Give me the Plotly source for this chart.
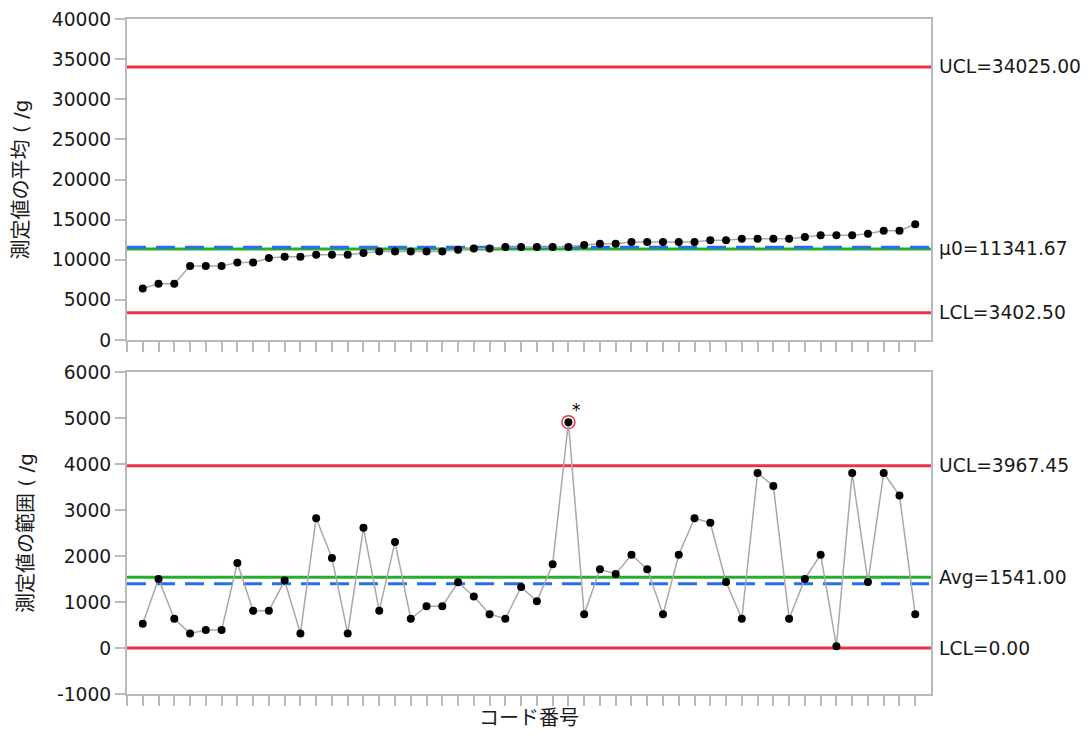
import plotly.graph_objects as go

# Subgroup (code number) index
codes = list(range(1, 51))

# Subgroup means of the measurements (g)
means = [6417, 7000, 7000, 9208, 9208, 9208, 9667, 9667, 10208, 10375,
         10375, 10625, 10625, 10625, 10833, 11042, 11042, 11042, 11042, 11042,
         11250, 11417, 11417, 11583, 11583, 11583, 11583, 11583, 11833, 12000,
         12000, 12208, 12208, 12208, 12208, 12208, 12417, 12417, 12625, 12625,
         12625, 12625, 12833, 13042, 13042, 13042, 13250, 13625, 13625, 14417]

# Subgroup ranges of the measurements (g)
ranges = [529, 1504, 637, 319, 390, 390, 1851, 810, 810, 1468,
          319, 2826, 1959, 319, 2617, 810, 2306, 637, 911, 911,
          1431, 1121, 737, 637, 1330, 1019, 1821, 4915, 737, 1713,
          1612, 2031, 1713, 737, 2031, 2826, 2725, 1439, 637, 3809,
          3527, 637, 1504, 2031, 40, 3809, 1439, 3809, 3317, 737]

# Axis tick values
mean_ticks = [0, 5000, 10000, 15000, 20000, 25000, 30000, 35000, 40000]
range_ticks = [-1000, 0, 1000, 2000, 3000, 4000, 5000, 6000]

# Control limits
mean_ucl, mean_center, mean_lcl = 34025.00, 11341.67, 3402.50
mean_median = 11560
range_ucl, range_center, range_lcl = 3967.45, 1541.00, 0.00
range_median = 1400

RED = "#ec3148"
GREEN = "#22b02a"
BLUE = "#2a6cf0"
FRAME = "#b9b9b9"
TXT = "#1a1a1a"
FONT = "DejaVu Sans, Verdana, sans-serif"
CJK = "DejaVu Sans, Noto Sans CJK JP, sans-serif"
FS = 18.7

fig = go.Figure()

# Out-of-control points on the range chart get a red ring
flag_x = [c for c, r in zip(codes, ranges) if r > range_ucl]
flag_y = [r for r in ranges if r > range_ucl]
fig.add_trace(go.Scatter(x=flag_x, y=flag_y, mode="markers", xaxis="x2", yaxis="y2",
                         marker=dict(size=13, color="white", line=dict(color=RED, width=1.5)),
                         hoverinfo="skip", showlegend=False))

for xa, ya, vals in (("x", "y", means), ("x2", "y2", ranges)):
    fig.add_trace(go.Scatter(x=codes, y=vals, mode="lines+markers", xaxis=xa, yaxis=ya,
                             line=dict(color="#a8a8a8", width=1.5),
                             marker=dict(size=8, color="black"),
                             showlegend=False))

# Horizontal control lines
def hline(ax, val, color, dash="solid"):
    xref = "x domain" if ax == "y" else "x2 domain"
    fig.add_shape(type="line", xref=xref, yref=ax, x0=0, x1=1, y0=val, y1=val,
                  line=dict(color=color, width=3, dash=dash), layer="below")

for ax, ucl, ctr, med, lcl in (("y", mean_ucl, mean_center, mean_median, mean_lcl),
                               ("y2", range_ucl, range_center, range_median, range_lcl)):
    hline(ax, ucl, RED)
    hline(ax, lcl, RED)
    hline(ax, ctr, GREEN)
    hline(ax, med, BLUE, dash="19px,10px")

# Limit labels on the right side
labels = [("y", mean_ucl, f"UCL={mean_ucl:.2f}"),
          ("y", mean_center, f"μ0={mean_center:.2f}"),
          ("y", mean_lcl, f"LCL={mean_lcl:.2f}"),
          ("y2", range_ucl, f"UCL={range_ucl:.2f}"),
          ("y2", range_center, f"Avg={range_center:.2f}"),
          ("y2", range_lcl, f"LCL={range_lcl:.2f}")]
for ax, val, text in labels:
    fig.add_annotation(xref="paper", yref=ax, x=1, y=val, text=text, showarrow=False,
                       xanchor="left", yanchor="middle", xshift=6,
                       font=dict(family=FONT, size=FS, color=TXT))

for x, y in zip(flag_x, flag_y):
    fig.add_annotation(xref="x2", yref="y2", x=x, y=y, text="*", showarrow=False,
                       xanchor="center", yanchor="middle", xshift=8, yshift=12,
                       font=dict(family=FONT, size=17, color="black"))

xcommon = dict(range=[0, 51], tickmode="array", tickvals=list(range(0, 51)),
               ticks="outside", ticklen=10, tickwidth=1.5, tickcolor=FRAME,
               showticklabels=False, showline=True, mirror=True, linecolor=FRAME,
               linewidth=2, showgrid=False, zeroline=False, domain=[0, 1])
ycommon = dict(ticks="outside", ticklen=10, tickwidth=1.5, tickcolor=FRAME,
               showline=True, mirror=True, linecolor=FRAME, linewidth=2,
               showgrid=False, zeroline=False, automargin=False, tickmode="array",
               tickfont=dict(family=FONT, size=FS, color=TXT))
title_font = dict(family=CJK, size=20, color=TXT)

fig.update_layout(
    width=1090, height=736,
    margin=dict(l=127, r=159, t=19, b=42),
    paper_bgcolor="white", plot_bgcolor="white",
    xaxis=dict(anchor="y", **xcommon),
    xaxis2=dict(anchor="y2", title=dict(text="コード番号", standoff=6, font=title_font),
                **xcommon),
    yaxis=dict(anchor="x", domain=[354 / 675, 1], range=[0, 40000],
               tickvals=mean_ticks, ticktext=[str(t) for t in mean_ticks],
               title=dict(text="測定値の平均 ( /g", standoff=18, font=title_font),
               **ycommon),
    yaxis2=dict(anchor="x2", domain=[0, 321.7 / 675], range=[-1000, 6000],
                tickvals=range_ticks, ticktext=[str(t) for t in range_ticks],
                title=dict(text="測定値の範囲 ( /g", standoff=18, font=title_font),
                **ycommon),
)

fig.write_html("out.html")
